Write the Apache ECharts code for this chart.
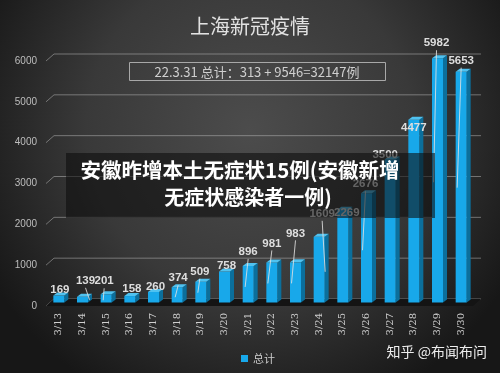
<!DOCTYPE html>
<html><head><meta charset="utf-8">
<script src="https://cdn.jsdelivr.net/npm/echarts@6/dist/echarts.min.js"></script>
<style>html,body{margin:0;padding:0;background:#222}#c{width:500px;height:373px}</style>
</head><body><div id="c"></div>
<script>
const categories = ['3/13','3/14','3/15','3/16','3/17','3/18','3/19','3/20','3/21','3/22','3/23','3/24','3/25','3/26','3/27','3/28','3/29','3/30'];
const totals = [169,139,201,158,260,374,509,758,896,981,983,1609,2269,2676,3500,4477,5982,5653];
const yTicks = [0,1000,2000,3000,4000,5000,6000];
const seriesName = '总计';
const titleText = '上海新冠疫情';
const noteText = '22.3.31 总计：313 + 9546=32147例';
const bannerLines = ['安徽昨增本土无症状15例(安徽新增', '无症状感染者一例)'];
const watermark = '知乎 @布闻布问';

// label nudges in px [dx, dy] and leader line end relative to label centre (null = none)
const labelNudge = [[1,3],[3,-7],[-2,-4],[2,2],[2,4],[1,0],[-1,-1],[2,3],[0,-5],[0,-10],[0,-20],[3,-14],[4,12],[-1,0],[-5,4],[0,17],[-1,-6],[0,-2]];
const leaderEnd = [null,[4,19],[-1,19],null,null,[-3,19],[-2,21],null,[-3,35],[-4,40],[-4,50],[3,58],null,[-3,66],null,null,[-3,139],[-4,127]];

const FRONT='#18a8ea', SIDE='#0b6f9c', TOP='#4fc2f0';
const HW=5.5, DX=4, DY=3, MID=3.5;

const chart = echarts.init(document.getElementById('c'), null, {renderer:'canvas'});

function renderGrid(params, api){
  const cs = params.coordSys;
  const y = api.coord([0, api.value(1)])[1];
  return {type:'polyline', shape:{points:[[cs.x-1,y],[cs.x+7,y-7],[cs.x+cs.width+8,y-7]]},
    style:{stroke:'rgba(190,190,190,0.5)', lineWidth:1, fill:null}};
}
function renderFloor(params, api){
  const cs = params.coordSys;
  const y = api.coord([0,0])[1];
  return {type:'polygon', shape:{points:[[cs.x-1,y],[cs.x+7,y-7],[cs.x+cs.width+8,y-7],[cs.x+cs.width,y]]},
    style:{fill:'#141414'}};
}
function renderBar(params, api){
  const i = api.value(0), v = api.value(1);
  const b = api.coord([i,0]), t = api.coord([i,v]);
  const cx = b[0], yb = b[1]-MID, yt = t[1]-MID;
  const children = [
    {type:'polygon', shape:{points:[[cx+HW,yt],[cx+HW+DX,yt-DY],[cx+HW+DX,yb-DY],[cx+HW,yb]]}, style:{fill:SIDE}},
    {type:'rect', shape:{x:cx-HW,y:yt,width:HW*2,height:yb-yt}, style:{fill:FRONT}},
    {type:'polygon', shape:{points:[[cx-HW,yt],[cx-HW+DX,yt-DY],[cx+HW+DX,yt-DY],[cx+HW,yt]]}, style:{fill:TOP}}
  ];
  const n = labelNudge[i];
  const lx = cx + n[0], ly = yt - DY - 6 + n[1];
  const le = leaderEnd[i];
  if (le) children.push({type:'line', shape:{x1:lx,y1:ly+7,x2:lx+le[0],y2:ly+le[1]}, style:{stroke:'rgba(225,225,225,0.85)', lineWidth:1}});
  children.push({type:'text', style:{text:String(v), x:lx, y:ly, fill:'#dedede', font:'bold 11.5px "Liberation Sans", Arial, sans-serif', align:'center', verticalAlign:'middle', textAlign:'center', textVerticalAlign:'middle'}});
  return {type:'group', children};
}

chart.setOption({
  backgroundColor:{type:'radial', x:0.5, y:0.35, r:0.8, colorStops:[{offset:0,color:'#4c4c4c'},{offset:0.55,color:'#393939'},{offset:1,color:'#171717'}]},
  animation:false,
  title:{text:titleText, left:'center', top:11, textStyle:{color:'#e2e2e2', fontSize:20, fontWeight:'normal', fontFamily:'"Noto Sans CJK SC", sans-serif'}},
  legend:{data:[{name:seriesName, icon:'rect'}], left:236, top:348, itemWidth:7, itemHeight:7, itemGap:4,
    textStyle:{color:'#cccccc', fontSize:11, fontFamily:'"Noto Sans CJK SC", sans-serif'}},
  grid:{left:47, right:27, top:61, bottom:67},
  xAxis:{type:'category', data:categories, axisLine:{show:false}, axisTick:{show:false},
    axisLabel:{rotate:90, color:'#d0d0d0', fontSize:10, margin:7, fontFamily:'"DejaVu Serif", serif'}},
  yAxis:{type:'value', min:0, max:6000, interval:1000, splitLine:{show:false}, axisLine:{show:false}, axisTick:{show:false},
    axisLabel:{color:'#bdbdbd', fontSize:10, margin:10, formatter:v=>String(v), fontFamily:'"Liberation Sans", Arial, sans-serif'}},
  series:[
    {type:'custom', name:'grid', coordinateSystem:'cartesian2d', renderItem:renderGrid, data:yTicks.map(v=>[0,v]), z:1, silent:true},
    {type:'custom', name:'floor', coordinateSystem:'cartesian2d', renderItem:renderFloor, data:[[0,0]], z:2, silent:true},
    {type:'custom', name:seriesName, coordinateSystem:'cartesian2d', renderItem:renderBar, itemStyle:{color:FRONT},
      data:totals.map((v,i)=>[i,v]), encode:{x:0,y:1}, z:3}
  ],
  graphic:[
    {type:'rect', shape:{x:129.5,y:62.5,width:256,height:18}, style:{fill:null, stroke:'#a8a8a8', lineWidth:1}, z:10},
    {type:'text', style:{text:noteText, x:257, y:72, fill:'#cfcfcf', font:'13px "Noto Sans CJK SC", sans-serif', textAlign:'center', textVerticalAlign:'middle', align:'center', verticalAlign:'middle'}, z:10},
    {type:'rect', shape:{x:66,y:153,width:369,height:65}, style:{fill:'rgba(12,12,12,0.58)'}, z:20},
    {type:'text', style:{text:bannerLines[0], x:240, y:170, fill:'#ffffff', font:'bold 20.5px "Noto Sans CJK SC", sans-serif', textAlign:'center', textVerticalAlign:'middle', align:'center', verticalAlign:'middle'}, z:21},
    {type:'text', style:{text:bannerLines[1], x:248, y:197, fill:'#ffffff', font:'bold 20px "Noto Sans CJK SC", sans-serif', textAlign:'center', textVerticalAlign:'middle', align:'center', verticalAlign:'middle'}, z:21},
    {type:'text', style:{text:watermark, x:487, y:352, fill:'#eeeeee', font:'14px "Noto Sans CJK SC", sans-serif', textAlign:'right', textVerticalAlign:'middle', align:'right', verticalAlign:'middle'}, z:21}
  ]
});
</script></body></html>
